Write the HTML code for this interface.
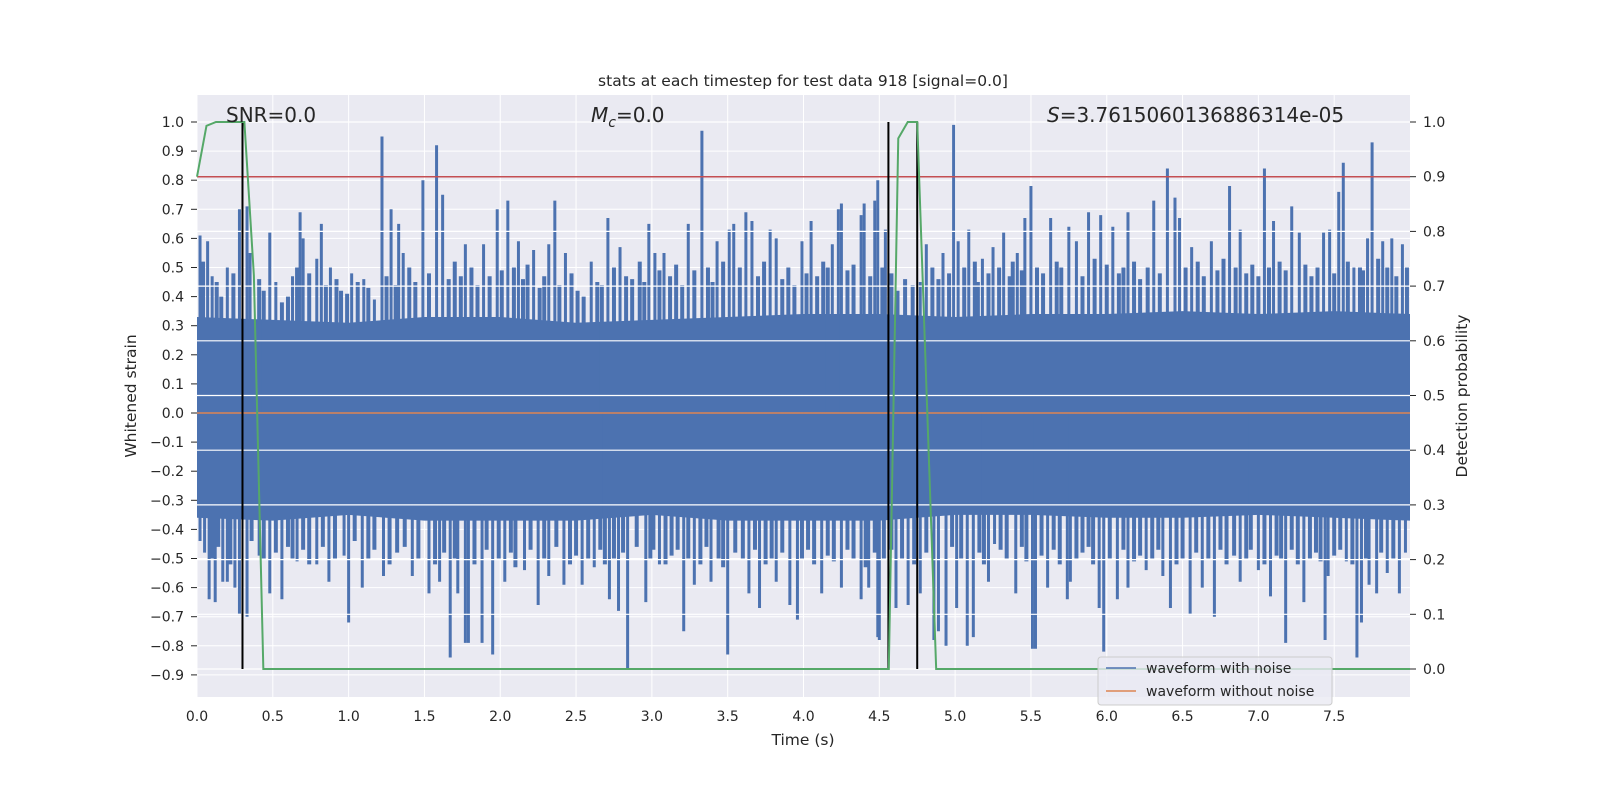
<!DOCTYPE html>
<html><head><meta charset="utf-8"><style>
body{margin:0;background:#fff}
svg{display:block;font-family:"DejaVu Sans","Liberation Sans",sans-serif}
</style></head><body>
<svg id="chart" width="1600" height="800" viewBox="0 0 1600 800">
<rect x="0" y="0" width="1600" height="800" fill="#fff"/>
<rect x="197" y="95" width="1213" height="602" fill="#eaeaf2"/>
<g id="leftGrid"></g>
<g id="xGrid"></g>
<g id="wave"></g>
<g id="rightGrid"></g>
<g id="over"></g>
<g id="axes"></g>
<text x="803" y="86" font-size="15.5" text-anchor="middle" fill="#262626">stats at each timestep for test data 918 [signal=0.0]</text>
<text x="226" y="122" font-size="20" fill="#262626">SNR=0.0</text>
<text x="591" y="122" font-size="20" fill="#262626"><tspan font-style="italic">M</tspan><tspan font-style="italic" font-size="14" dy="5">c</tspan><tspan dy="-5">=0.0</tspan></text>
<text x="1047" y="122" font-size="20" fill="#262626"><tspan font-style="italic">S</tspan>=3.7615060136886314e-05</text>
<text x="803" y="745" font-size="15.5" text-anchor="middle" fill="#262626">Time (s)</text>
<text transform="translate(136,396) rotate(-90)" font-size="15.5" text-anchor="middle" fill="#262626">Whitened strain</text>
<text transform="translate(1467,396) rotate(-90)" font-size="15.5" text-anchor="middle" fill="#262626">Detection probability</text>
<g>
<rect x="1098" y="657" width="234" height="48" rx="3" fill="#eaeaf2" fill-opacity="0.8" stroke="#cccccc"/>
<line x1="1106" y1="668" x2="1136" y2="668" stroke="#4c72b0" stroke-width="1.5"/>
<text x="1146" y="673" font-size="14" fill="#262626">waveform with noise</text>
<line x1="1106" y1="691" x2="1136" y2="691" stroke="#dd8452" stroke-width="1.5"/>
<text x="1146" y="696" font-size="14" fill="#262626">waveform without noise</text>
</g>
</svg>
<script>
const upT=[0.02,0.07,0.1,0.2,0.28,0.33,0.35,0.48,0.52,0.63,0.68,0.7,0.79,0.82,0.88,1.02,1.1,1.17,1.22,1.28,1.33,1.36,1.49,1.58,1.62,1.77,1.89,1.98,2.05,2.12,2.22,2.32,2.36,2.43,2.6,2.71,2.79,2.98,3.02,3.08,3.24,3.33,3.43,3.51,3.54,3.62,3.66,3.78,3.82,3.99,4.05,4.19,4.23,4.25,4.38,4.4,4.47,4.49,4.54,4.77,4.81,4.92,4.99,5.02,5.09,5.18,5.25,5.32,5.41,5.46,5.5,5.63,5.75,5.8,5.88,5.96,6.04,6.14,6.31,6.4,6.45,6.48,6.56,6.69,6.81,6.88,7.04,7.1,7.22,7.27,7.43,7.47,7.53,7.56,7.63,7.72,7.75,7.82,7.88,7.95];
const upV=[0.61,0.59,0.47,0.5,0.7,0.71,0.55,0.62,0.45,0.47,0.69,0.6,0.53,0.65,0.5,0.48,0.46,0.39,0.95,0.7,0.65,0.55,0.8,0.92,0.75,0.58,0.58,0.7,0.73,0.59,0.56,0.58,0.73,0.55,0.52,0.67,0.57,0.65,0.55,0.55,0.65,0.97,0.59,0.63,0.65,0.69,0.66,0.63,0.6,0.59,0.66,0.58,0.7,0.72,0.68,0.72,0.73,0.8,0.63,0.45,0.58,0.55,0.99,0.59,0.63,0.53,0.57,0.62,0.55,0.67,0.78,0.67,0.64,0.59,0.69,0.68,0.64,0.69,0.73,0.84,0.74,0.67,0.57,0.59,0.78,0.63,0.84,0.66,0.71,0.62,0.62,0.63,0.76,0.86,0.5,0.6,0.93,0.59,0.6,0.58];
const minUpT=[0.04,0.13,0.16,0.24,0.41,0.44,0.56,0.6,0.66,0.74,0.85,0.92,0.95,0.99,1.06,1.13,1.25,1.31,1.4,1.44,1.53,1.66,1.7,1.74,1.81,1.85,1.93,2.01,2.09,2.15,2.18,2.26,2.29,2.39,2.47,2.51,2.55,2.64,2.67,2.75,2.83,2.87,2.92,2.95,3.05,3.12,3.16,3.2,3.28,3.37,3.4,3.47,3.58,3.7,3.74,3.86,3.9,3.94,4.02,4.09,4.13,4.16,4.29,4.33,4.44,4.52,4.58,4.62,4.67,4.72,4.85,4.89,4.96,5.06,5.13,5.15,5.22,5.29,5.36,5.38,5.44,5.54,5.58,5.67,5.7,5.84,5.92,6.0,6.08,6.11,6.18,6.22,6.27,6.35,6.52,6.6,6.64,6.73,6.77,6.85,6.92,6.96,7.0,7.07,7.14,7.18,7.31,7.35,7.39,7.5,7.59,7.67,7.69,7.79,7.85,7.91,7.98];
const minUpV=[0.52,0.45,0.4,0.48,0.46,0.42,0.38,0.4,0.5,0.48,0.44,0.46,0.42,0.41,0.45,0.43,0.47,0.44,0.5,0.45,0.48,0.46,0.52,0.47,0.5,0.44,0.47,0.49,0.5,0.46,0.51,0.43,0.47,0.44,0.48,0.42,0.4,0.45,0.44,0.5,0.47,0.46,0.52,0.45,0.49,0.47,0.51,0.44,0.49,0.5,0.45,0.52,0.5,0.47,0.52,0.46,0.5,0.44,0.48,0.47,0.52,0.5,0.49,0.51,0.47,0.5,0.48,0.42,0.46,0.44,0.5,0.46,0.48,0.5,0.52,0.45,0.48,0.5,0.47,0.52,0.49,0.5,0.48,0.52,0.5,0.47,0.53,0.51,0.48,0.5,0.52,0.46,0.5,0.48,0.5,0.52,0.47,0.49,0.53,0.5,0.48,0.51,0.47,0.5,0.52,0.49,0.51,0.47,0.5,0.48,0.52,0.5,0.49,0.53,0.5,0.47,0.5];
const loT=[0.02,0.05,0.08,0.12,0.17,0.2,0.25,0.28,0.33,0.41,0.48,0.56,0.66,0.79,0.87,0.97,1.0,1.09,1.23,1.42,1.53,1.6,1.67,1.72,1.77,1.79,1.88,1.95,2.03,2.16,2.25,2.32,2.42,2.54,2.62,2.72,2.78,2.84,2.96,3.05,3.21,3.28,3.39,3.5,3.64,3.71,3.82,3.91,3.96,4.12,4.25,4.38,4.43,4.49,4.5,4.61,4.69,4.77,4.86,4.89,4.94,5.01,5.08,5.12,5.22,5.26,5.4,5.51,5.53,5.61,5.74,5.76,5.95,5.98,6.07,6.14,6.26,6.37,6.42,6.55,6.63,6.71,6.88,7.0,7.08,7.18,7.3,7.44,7.46,7.58,7.65,7.68,7.73,7.78,7.85,7.93,7.97];
const loV=[-0.44,-0.48,-0.64,-0.65,-0.58,-0.58,-0.6,-0.69,-0.7,-0.49,-0.62,-0.64,-0.51,-0.52,-0.58,-0.49,-0.72,-0.6,-0.56,-0.56,-0.62,-0.58,-0.84,-0.62,-0.79,-0.79,-0.79,-0.83,-0.58,-0.54,-0.66,-0.56,-0.59,-0.59,-0.53,-0.64,-0.68,-0.88,-0.65,-0.52,-0.75,-0.59,-0.58,-0.83,-0.62,-0.67,-0.58,-0.66,-0.71,-0.62,-0.6,-0.64,-0.6,-0.77,-0.78,-0.67,-0.66,-0.62,-0.78,-0.75,-0.8,-0.67,-0.8,-0.77,-0.58,-0.45,-0.62,-0.81,-0.81,-0.6,-0.64,-0.58,-0.67,-0.82,-0.64,-0.6,-0.54,-0.56,-0.67,-0.69,-0.6,-0.7,-0.58,-0.54,-0.63,-0.79,-0.65,-0.78,-0.56,-0.51,-0.84,-0.72,-0.59,-0.62,-0.55,-0.62,-0.48];
const minLoT=[0.1,0.14,0.22,0.36,0.44,0.52,0.6,0.63,0.7,0.74,0.83,0.91,1.04,1.13,1.17,1.27,1.32,1.37,1.46,1.57,1.63,1.7,1.83,1.91,1.99,2.07,2.1,2.2,2.29,2.37,2.46,2.5,2.58,2.66,2.69,2.75,2.81,2.9,2.99,3.01,3.09,3.13,3.17,3.24,3.32,3.36,3.44,3.47,3.55,3.6,3.68,3.75,3.79,3.86,3.99,4.03,4.07,4.16,4.2,4.29,4.33,4.41,4.47,4.53,4.58,4.65,4.73,4.81,4.98,5.04,5.16,5.19,5.3,5.34,5.44,5.47,5.57,5.65,5.69,5.8,5.84,5.88,5.91,6.02,6.11,6.18,6.22,6.3,6.34,6.46,6.5,6.59,6.67,6.75,6.79,6.84,6.92,6.95,7.04,7.12,7.15,7.22,7.26,7.34,7.38,7.41,7.5,7.54,7.62,7.71,7.81,7.89];
const minLoV=[-0.5,-0.46,-0.52,-0.44,-0.5,-0.48,-0.46,-0.5,-0.47,-0.52,-0.46,-0.5,-0.44,-0.5,-0.47,-0.52,-0.48,-0.46,-0.5,-0.52,-0.48,-0.5,-0.52,-0.47,-0.5,-0.48,-0.53,-0.47,-0.5,-0.46,-0.52,-0.49,-0.5,-0.47,-0.52,-0.5,-0.48,-0.46,-0.5,-0.47,-0.52,-0.49,-0.47,-0.5,-0.52,-0.46,-0.5,-0.53,-0.48,-0.5,-0.47,-0.52,-0.5,-0.48,-0.5,-0.47,-0.52,-0.49,-0.51,-0.47,-0.5,-0.53,-0.48,-0.5,-0.47,-0.5,-0.52,-0.48,-0.46,-0.5,-0.48,-0.52,-0.47,-0.5,-0.46,-0.51,-0.49,-0.47,-0.52,-0.5,-0.48,-0.46,-0.52,-0.5,-0.47,-0.51,-0.49,-0.5,-0.47,-0.52,-0.5,-0.48,-0.5,-0.47,-0.52,-0.49,-0.5,-0.47,-0.52,-0.49,-0.5,-0.47,-0.52,-0.5,-0.48,-0.51,-0.49,-0.47,-0.52,-0.5,-0.48,-0.5];
const bandT=[0,0.5,1,1.5,2,2.5,3,3.5,4,4.5,5,5.5,6,6.5,7,7.5,8];
const bandHi=[0.33,0.32,0.31,0.33,0.33,0.31,0.32,0.33,0.34,0.34,0.33,0.34,0.34,0.35,0.34,0.35,0.34];
const bandLo=[-0.36,-0.37,-0.35,-0.37,-0.37,-0.37,-0.35,-0.37,-0.37,-0.37,-0.35,-0.35,-0.36,-0.36,-0.35,-0.36,-0.37];
const probT=[0,0.0625,0.125,0.3125,0.375,0.4375,4.5625,4.625,4.6875,4.75,4.8125,4.875,8.0];
const probV=[0.9,0.993,1,1,0.72,0,0,0.97,1,1,0.5,0,0];
const threshold=0.9;
const markT=[0.3,4.56,4.75];
const xTicks=[0,0.5,1,1.5,2,2.5,3,3.5,4,4.5,5,5.5,6,6.5,7,7.5];
const yTicks=[-0.9,-0.8,-0.7,-0.6,-0.5,-0.4,-0.3,-0.2,-0.1,0,0.1,0.2,0.3,0.4,0.5,0.6,0.7,0.8,0.9,1.0];
const rTicks=[0,0.1,0.2,0.3,0.4,0.5,0.6,0.7,0.8,0.9,1.0];

const NS="http://www.w3.org/2000/svg";
const X=t=>197+t*(1213/8);
const Y=v=>413-v*291;
const R=p=>669-p*547;
function mk(parent,tag,attrs){const e=document.createElementNS(NS,tag);for(const k in attrs)e.setAttribute(k,attrs[k]);document.getElementById(parent).appendChild(e);return e;}

yTicks.forEach(v=>{
  const l=mk('leftGrid','line',{x1:197,x2:1410,y1:Y(v),y2:Y(v),stroke:'#fff','stroke-width':1});
  
  
  const tk=mk('axes','line',{x1:191,x2:197,y1:Y(v),y2:Y(v),stroke:'#262626','stroke-width':1});
  
  
  const t=mk('axes','text',{x:184,y:Y(v)+5,'font-size':14,'text-anchor':'end',fill:'#262626'});
  t.textContent=(Math.abs(v)<1e-9?0:v).toFixed(1).replace('-','\u2212');
  
  
});
xTicks.forEach(v=>{
  const l=mk('xGrid','line',{x1:X(v),x2:X(v),y1:95,y2:697,stroke:'#fff','stroke-width':1});
  
  
  const t=mk('axes','text',{x:X(v),y:721,'font-size':14,'text-anchor':'middle',fill:'#262626'});
  t.textContent=v.toFixed(1);
  
  
});
rTicks.forEach(v=>{
  const l=mk('rightGrid','line',{x1:197,x2:1410,y1:R(v),y2:R(v),stroke:'#fff','stroke-width':1.2});
  
  
  const tk=mk('axes','line',{x1:1410,x2:1416,y1:R(v),y2:R(v),stroke:'#262626','stroke-width':1});
  
  
  const t=mk('axes','text',{x:1423,y:R(v)+5,'font-size':14,fill:'#262626'});
  t.textContent=v.toFixed(1);
  
  
});

let d='';
bandT.forEach((t,i)=>{d+=(i?'L':'M')+X(t)+','+Y(bandHi[i]);});
for(let i=bandT.length-1;i>=0;i--)d+='L'+X(bandT[i])+','+Y(bandLo[i]);
const band=mk('wave','path',{d:d+'Z',fill:'#4c72b0'});


function spikes(ts,vs,w,name){
  ts.forEach((t,i)=>{
    const s=mk('wave','line',{x1:X(t),x2:X(t),y1:Y(0),y2:Y(vs[i]),stroke:'#4c72b0','stroke-width':w});
    
    
  });
}
spikes(minUpT,minUpV,4,'waveform-minor-peak');
spikes(minLoT,minLoV,4,'waveform-minor-trough');
spikes(upT,upV,3,'waveform-peak');
spikes(loT,loV,3,'waveform-trough');
const zero=mk('wave','line',{x1:197,x2:1410,y1:Y(0),y2:Y(0),stroke:'#dd8452','stroke-width':1.5});



const red=mk('over','line',{x1:197,x2:1410,y1:R(threshold),y2:R(threshold),stroke:'#c44e52','stroke-width':1.5});


markT.forEach(t=>{
  const b=mk('over','line',{x1:X(t),x2:X(t),y1:R(1),y2:R(0),stroke:'#000','stroke-width':2});
  
  
});
const pts=probT.map((t,i)=>X(t)+','+R(probV[i])).join(' ');
const g=mk('over','polyline',{points:pts,fill:'none',stroke:'#55a868','stroke-width':2});


</script>
</body></html>
